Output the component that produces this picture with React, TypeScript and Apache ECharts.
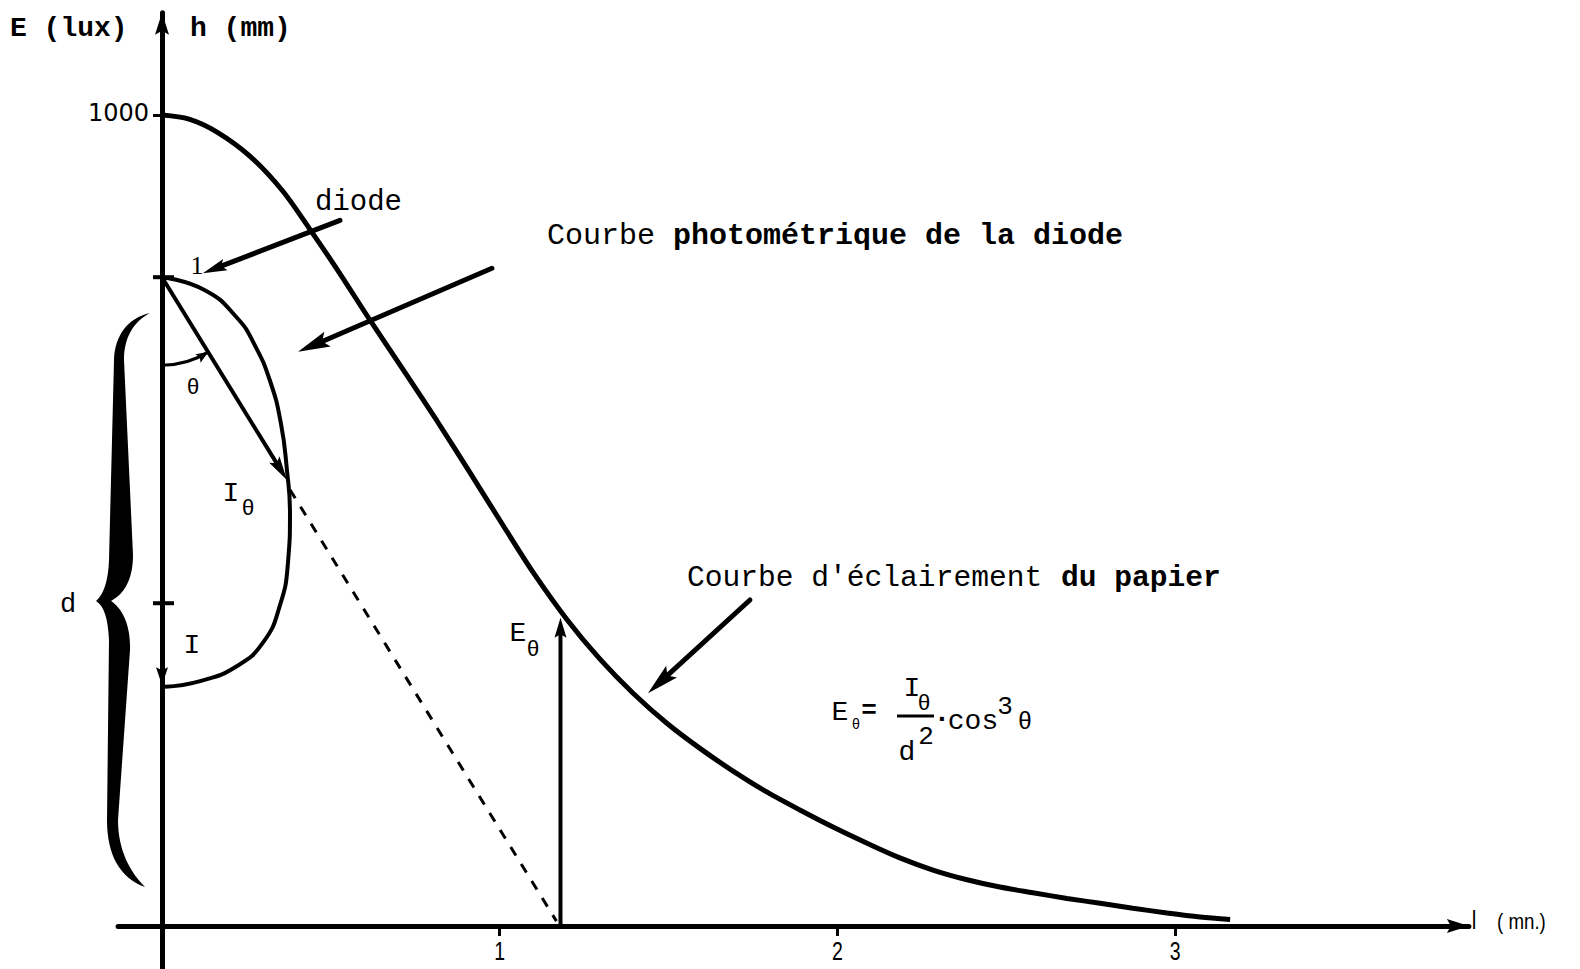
import { useEffect, useRef } from "react";
import * as echarts from "echarts";

// Illumination of the paper E (lux) as a function of the distance l (mm)
const distanceMm = [
  0, 0.08, 0.163, 0.261, 0.358, 0.438, 0.518, 0.616, 0.714, 0.814, 0.912, 1.013, 1.099,
  1.199, 1.297, 1.395, 1.495, 1.593, 1.691, 1.792, 1.889, 1.987, 2.088, 2.185,
  2.283, 2.384, 2.481, 2.579, 2.68, 2.778, 2.875, 2.976, 3.074, 3.163,
];
const illuminanceLux = [
  1000, 995, 979, 949, 906, 859, 810, 747, 686, 623, 559, 492, 436,
  378, 329, 287, 250, 219, 191, 165, 143, 122, 102, 84,
  69, 57, 48, 41, 34, 28, 22, 16, 11, 8,
];

// Photometric (polar) curve of the diode, drawn in the same plane
const photometricL = [0, 0.127, 0.222, 0.275, 0.32, 0.352, 0.37, 0.379, 0.373, 0.349, 0.3, 0.22, 0.113, 0.009];
const photometricE = [800, 784, 750, 716, 672, 620, 562, 509, 448, 395, 350, 320, 302, 295];

// Axis ticks
const xTickValues = [1, 2, 3];
const yTickValues = [1000];

// Construction points
const diodePoint = [0, 800];
const intensityTip = [0.37, 550];
const rayStart = [0.379, 538];
const rayEnd = [1.168, 6];
const footPoint = [1.18, 0];
const illuminanceTop = [1.18, 380];
const dMarkPoint = [0, 398];
const intensityArrowFrom = [0, 340];
const intensityArrowTip = [0, 297];

// Callout arrows: [from, to]
const diodeArrow = [[0.527, 870], [0.121, 805]];
const photometricArrow = [[0.977, 811], [0.403, 708]];
const illuminationArrow = [[1.741, 402], [1.439, 287]];

const X_MIN = -0.13;
const X_MAX = 3.87;
const Y_MIN = -53;
const Y_MAX = 1126;
const PX_PER_MM = 337.7;
const PX_PER_LUX = 0.811;

const MONO = '"Liberation Mono", "DejaVu Sans Mono", monospace';
const SANS = '"Liberation Sans", Arial, sans-serif';

// Curly brace marking the distance d
const BRACE_D =
  "M150 313 C128 318 115 335 114 360 L109 560 C108 585 102 596 96 601 " +
  "C104 606 108 618 109 640 L107 820 C107 855 120 878 145 887 " +
  "C130 872 118 850 118 820 L130 650 C131 625 122 608 111 601 " +
  "C124 594 133 580 133 555 L124 360 C124 338 133 322 150 313 Z";
echarts.graphic.registerShape("brace", echarts.graphic.extendPath(BRACE_D, {}));

const pairs = (xs: number[], ys: number[]) => xs.map((x, i) => [x, ys[i]]);

function buildGraphics(chart: echarts.ECharts) {
  const toPx = (p: number[]) => chart.convertToPixel({ gridIndex: 0 }, p) as number[];
  const els: any[] = [];

  const head = (tip: number[], from: number[], len: number, half: number) => {
    const dx = tip[0] - from[0];
    const dy = tip[1] - from[1];
    const d = Math.hypot(dx, dy);
    const ux = dx / d;
    const uy = dy / d;
    const bx = tip[0] - ux * len;
    const by = tip[1] - uy * len;
    const nx = -uy;
    const ny = ux;
    return {
      type: "polygon",
      shape: {
        points: [
          tip,
          [bx + nx * half, by + ny * half],
          [tip[0] - ux * len * 0.82, tip[1] - uy * len * 0.82],
          [bx - nx * half, by - ny * half],
        ],
      },
      style: { fill: "#000" },
      z: 20,
    };
  };

  const arrow = (from: number[], to: number[], width: number, len: number, half: number) => {
    const a = toPx(from);
    const b = toPx(to);
    const d = Math.hypot(b[0] - a[0], b[1] - a[1]);
    const ux = (b[0] - a[0]) / d;
    const uy = (b[1] - a[1]) / d;
    els.push({
      type: "line",
      shape: { x1: a[0], y1: a[1], x2: b[0] - ux * len * 0.7, y2: b[1] - uy * len * 0.7 },
      style: { stroke: "#000", lineWidth: width, lineCap: "round" },
      z: 20,
    });
    els.push(head(b, a, len, half));
  };

  const text = (t: string, x: number, y: number, font: string, align = "center", scaleX = 1) => {
    els.push({
      type: "text",
      x,
      y,
      scaleX,
      style: {
        text: t,
        font,
        fill: "#000",
        textAlign: align,
        textVerticalAlign: "middle",
        align,
        verticalAlign: "middle",
      },
      z: 30,
    });
  };

  // tick labels, placed on the axes that cross at the origin
  xTickValues.forEach((v) => {
    const p = toPx([v, 0]);
    text(String(v), p[0], p[1] + 25, `26px ${SANS}`, "center", 0.75);
  });
  yTickValues.forEach((v) => {
    const p = toPx([0, v]);
    text(String(v), p[0] - 13, p[1] - 2, `24px "DejaVu Sans", sans-serif`, "right");
  });

  // axis arrowheads
  const yTop = toPx([0, Y_MAX]);
  els.push(head(yTop, [yTop[0], yTop[1] + 40], 22, 7));
  const xEnd = toPx([X_MAX, 0]);
  els.push(head(xEnd, [xEnd[0] - 40, xEnd[1]], 22, 7));

  // marks on the h axis (diode and end of d)
  [diodePoint, dMarkPoint].forEach((p) => {
    const q = toPx(p);
    els.push({
      type: "line",
      shape: { x1: q[0] - 9, y1: q[1], x2: q[0] + 12, y2: q[1] },
      style: { stroke: "#000", lineWidth: 4 },
      z: 20,
    });
  });

  // angle theta between the axis and the ray
  const c = toPx(diodePoint);
  const t = toPx(intensityTip);
  const rayAngle = Math.atan2(t[1] - c[1], t[0] - c[0]);
  const r = 88;
  els.push({
    type: "arc",
    shape: { cx: c[0], cy: c[1], r, startAngle: rayAngle, endAngle: Math.PI / 2, clockwise: true },
    style: { stroke: "#000", lineWidth: 3, fill: "none" },
    z: 20,
  });
  const aTip = [c[0] + r * Math.cos(rayAngle), c[1] + r * Math.sin(rayAngle)];
  const aFrom = [aTip[0] - 12 * Math.sin(rayAngle), aTip[1] + 12 * Math.cos(rayAngle)];
  els.push(head(aTip, aFrom, 12, 5));

  // arrows
  arrow(diodePoint, intensityTip, 4, 24, 6);
  arrow(footPoint, illuminanceTop, 4, 20, 6);
  arrow(intensityArrowFrom, intensityArrowTip, 4, 18, 6);
  arrow(diodeArrow[0], diodeArrow[1], 5, 24, 6);
  arrow(photometricArrow[0], photometricArrow[1], 5, 32, 8);
  arrow(illuminationArrow[0], illuminationArrow[1], 5, 32, 8);

  // brace for d
  els.push({ type: "brace", x: 0, y: 0, style: { fill: "#000", stroke: "none" }, z: 20 });

  // axis titles
  text("E (lux)", 10, 28, `bold 28px ${MONO}`, "left");
  text("h (mm)", 190, 28, `bold 28px ${MONO}`, "left");
  text("l", 1474, 920, `26px ${SANS}`, "center", 0.8);
  text("( mn.)", 1497, 921, `22px ${SANS}`, "left", 0.85);

  // callout labels
  text("diode", 315, 202, `29px ${MONO}`, "left");
  text("1", 197, 265, `26px "Liberation Serif", serif`);
  text("Courbe", 547, 236, `30px ${MONO}`, "left");
  text("photométrique de la diode", 673, 236, `bold 30px ${MONO}`, "left");
  text("Courbe d'éclairement", 687, 578, `29.6px ${MONO}`, "left");
  text("du papier", 1061, 578, `bold 29.6px ${MONO}`, "left");

  // construction labels
  text("θ", 193, 388, `22px ${MONO}`);
  text("I", 231, 493, `28px ${MONO}`);
  text("θ", 248, 509, `22px ${MONO}`);
  text("I", 192, 645, `28px ${MONO}`);
  text("d", 68, 605, `27px ${MONO}`);
  text("E", 518, 633, `28px ${MONO}`);
  text("θ", 533, 650, `22px ${MONO}`);

  // formula E_θ = I_θ / d² · cos³θ
  text("E", 840, 712, `28px ${MONO}`);
  text("θ", 856, 725, `14px ${MONO}`);
  text("=", 869, 711, `bold 26px ${MONO}`);
  text("I", 912, 688, `28px ${MONO}`);
  text("θ", 924, 704, `22px ${MONO}`);
  els.push({
    type: "line",
    shape: { x1: 897, y1: 716, x2: 934, y2: 716 },
    style: { stroke: "#000", lineWidth: 3 },
    z: 20,
  });
  text("d", 907, 752, `28px ${MONO}`);
  text("2", 926, 737, `26px ${MONO}`);
  text("·", 942, 719, `bold 28px ${MONO}`);
  text("cos", 973, 721, `28px ${MONO}`);
  text("3", 1005, 707, `26px ${MONO}`);
  text("θ", 1025, 722, `24px ${MONO}`);

  return els;
}

export default function App() {
  const ref = useRef<HTMLDivElement>(null);

  useEffect(() => {
    document.body.style.margin = "0";
    const chart = echarts.init(ref.current!, null, { renderer: "svg" });
    const originX = 162;
    const originY = 926;
    const left = originX + X_MIN * PX_PER_MM;
    const top = originY - Y_MAX * PX_PER_LUX;

    chart.setOption({
      animation: false,
      backgroundColor: "#fff",
      grid: {
        left,
        top,
        width: (X_MAX - X_MIN) * PX_PER_MM,
        height: (Y_MAX - Y_MIN) * PX_PER_LUX,
        containLabel: false,
        outerBoundsMode: "none",
      },
      xAxis: {
        type: "value",
        min: X_MIN,
        max: X_MAX,
        axisLine: { onZero: true, lineStyle: { color: "#000", width: 5 } },
        axisTick: { show: true, customValues: xTickValues, length: 10, lineStyle: { color: "#000", width: 3 } },
        axisLabel: { show: false },
        splitLine: { show: false },
      },
      yAxis: {
        type: "value",
        min: Y_MIN,
        max: Y_MAX,
        axisLine: { onZero: true, lineStyle: { color: "#000", width: 5 } },
        axisTick: { show: true, customValues: yTickValues, length: 9, lineStyle: { color: "#000", width: 3 } },
        axisLabel: { show: false },
        splitLine: { show: false },
      },
      series: [
        {
          name: "Courbe d'éclairement du papier",
          type: "line",
          data: pairs(distanceMm, illuminanceLux),
          smooth: 0.3,
          showSymbol: false,
          lineStyle: { color: "#000", width: 5 },
          z: 10,
        },
        {
          name: "Courbe photométrique de la diode",
          type: "line",
          data: pairs(photometricL, photometricE),
          smooth: 0.5,
          showSymbol: false,
          lineStyle: { color: "#000", width: 4 },
          z: 10,
        },
        {
          name: "rayon",
          type: "line",
          data: [rayStart, rayEnd],
          showSymbol: false,
          lineStyle: { color: "#000", width: 3, type: [10, 10] },
          z: 10,
        },
      ],
    });
    chart.setOption({ graphic: buildGraphics(chart) });
    return () => chart.dispose();
  }, []);

  return <div ref={ref} style={{ width: 1580, height: 969, background: "#fff" }} />;
}
